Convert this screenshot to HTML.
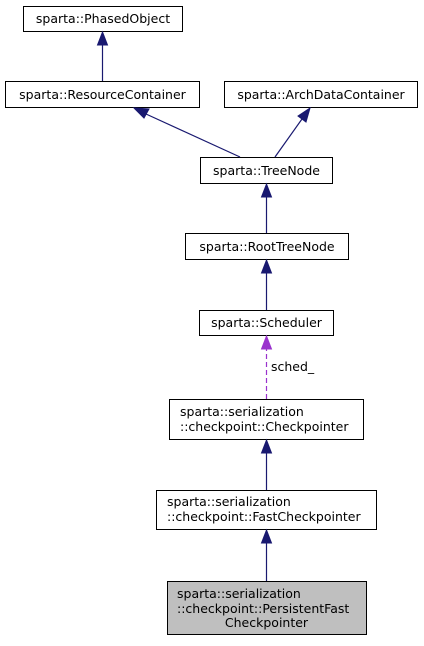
<!DOCTYPE html>
<html><head><meta charset="utf-8"><style>
body{margin:0;background:#fff;}
</style></head><body>
<svg width="424" height="641" viewBox="0 0 424 641" xmlns="http://www.w3.org/2000/svg" font-family="DejaVu Sans, Liberation Sans, sans-serif" font-size="12.5" fill="#000">
<g fill="#fff" stroke="#000" stroke-width="1">
<rect x="23.5" y="6.5" width="159" height="25"/>
<rect x="5.5" y="81.5" width="194" height="26"/>
<rect x="224.5" y="81.5" width="193" height="26"/>
<rect x="200.5" y="157.5" width="132" height="26"/>
<rect x="185.5" y="233.5" width="163" height="26"/>
<rect x="199.5" y="310.5" width="134" height="25"/>
<rect x="169.5" y="399.5" width="194" height="40"/>
<rect x="156.5" y="490.5" width="220" height="39"/>
<rect x="167.5" y="581.5" width="199" height="53" fill="#bfbfbf"/>
</g>
<g stroke="#191970" stroke-width="1.2" fill="none">
<line x1="102.5" y1="81" x2="102.5" y2="44"/>
<line x1="240" y1="157" x2="146" y2="114"/>
<line x1="275" y1="157" x2="302" y2="119"/>
<line x1="266.5" y1="233" x2="266.5" y2="196"/>
<line x1="266.5" y1="310" x2="266.5" y2="272"/>
<line x1="266.5" y1="490" x2="266.5" y2="452"/>
<line x1="266.5" y1="581" x2="266.5" y2="543"/>
</g>
<line x1="266.5" y1="399" x2="266.5" y2="349" stroke="#9a32cd" stroke-width="1.2" stroke-dasharray="5,3"/>
<g fill="#191970" stroke="#191970">
<polygon points="102.5,32 97.5,45 107.5,45"/>
<polygon points="134,108 144,118 149,109"/>
<polygon points="310,108 298,116 306,122"/>
<polygon points="266.5,184 261.5,197 271.5,197"/>
<polygon points="266.5,260 261.5,273 271.5,273"/>
<polygon points="266.5,440 261.5,453 271.5,453"/>
<polygon points="266.5,530 261.5,543 271.5,543"/>
</g>
<polygon points="266.5,336 261.5,349 271.5,349" fill="#9a32cd" stroke="#9a32cd"/>
<g text-anchor="middle">
<text x="103" y="23">sparta::PhasedObject</text>
<text x="102.5" y="99">sparta::ResourceContainer</text>
<text x="321" y="99">sparta::ArchDataContainer</text>
<text x="266.5" y="175">sparta::TreeNode</text>
<text x="267" y="251">sparta::RootTreeNode</text>
<text x="266.5" y="327">sparta::Scheduler</text>
<text x="266.5" y="627">Checkpointer</text>
</g>
<text x="271" y="371">sched_</text>
<text x="180" y="416">sparta::serialization</text>
<text x="180" y="431">::checkpoint::Checkpointer</text>
<text x="167" y="506">sparta::serialization</text>
<text x="167" y="521">::checkpoint::FastCheckpointer</text>
<text x="177" y="598">sparta::serialization</text>
<text x="177" y="613">::checkpoint::PersistentFast</text>
</svg>
</body></html>
